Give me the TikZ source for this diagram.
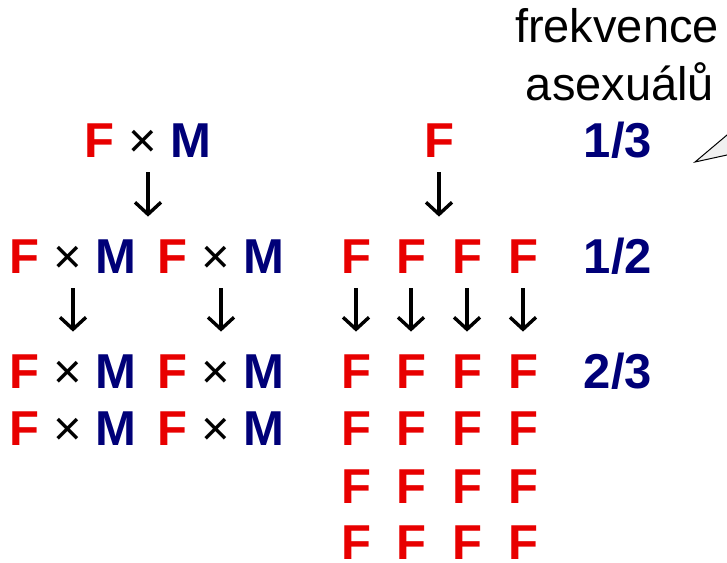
\documentclass[tikz,border=0pt]{standalone}
\usepackage{fontspec}
\setmainfont{Liberation Sans}
\usetikzlibrary{arrows.meta}
\definecolor{fred}{RGB}{232,0,0}
\definecolor{mnavy}{RGB}{0,0,120}
\newcommand{\fxm}{{\color{fred}F} {\mdseries\color{black}×} {\color{mnavy}M}}
\tikzset{
  sym/.style={inner sep=0pt, anchor=south, text height=35pt, text depth=0pt,
    font=\fontsize{49}{49}\selectfont\bfseries},
  fnode/.style={sym, text=fred},
  frac/.style={sym, text=mnavy},
  note/.style={inner sep=0pt, anchor=base, font=\fontsize{47}{47}\selectfont},
  down/.style={-{Straight Barb[length=12pt,width=26pt]}, line width=3.4pt,
    shorten <=14pt, shorten >=22pt}
}
\begin{document}
\begin{tikzpicture}[x=1pt,y=-1pt]
                    \useasboundingbox (0,0) rectangle (727,562);
                    % Callout
                    \begin{scope}
                    \clip (0,0) rectangle (727,562);
                    \filldraw[fill=gray!12, draw=black, line width=1pt]
                        (695,162) -- (759,108) -- (759,148) -- cycle;
                    \end{scope}
                    \node[note] (n1) at (617,42) {frekvence};
                    \node[note] (n2) at (620,100) {asexuálů};
                    % Sexual population
                    \node[sym] (c1) at (148,158) {\fxm};
                    \node[sym] (c21) at (73,274) {\fxm};
                    \node[sym] (c22) at (221,274) {\fxm};
                    \node[sym] (c31) at (73,389) {\fxm};
                    \node[sym] (c32) at (221,389) {\fxm};
                    \node[sym] (c41) at (73,446) {\fxm};
                    \node[sym] (c42) at (221,446) {\fxm};
                    \draw[down] (c1.south) -- (c1.south |- c21.north);
                    \draw[down] (c21) -- (c31);
                    \draw[down] (c22) -- (c32);
                    % Asexual population
                    \node[fnode] (f1) at (439,158) {F};
                    \foreach \x [count=\i] in {356,411,467,523} {
                        \node[fnode] (f2\i) at (\x,274) {F};
                        \foreach \y [count=\j from 3] in {389,446,504,560}
                            \node[fnode] (f\j\i) at (\x,\y) {F};
                        \draw[down] (f2\i) -- (f3\i);
                    }
                    \draw[down] (f1.south) -- (f1.south |- f21.north);
                    % Frequencies
                    \node[frac] (q1) at (618,158) {1/3};
                    \node[frac] (q2) at (618,274) {1/2};
                    \node[frac] (q3) at (618,389) {2/3};
                \end{tikzpicture}
\end{document}
